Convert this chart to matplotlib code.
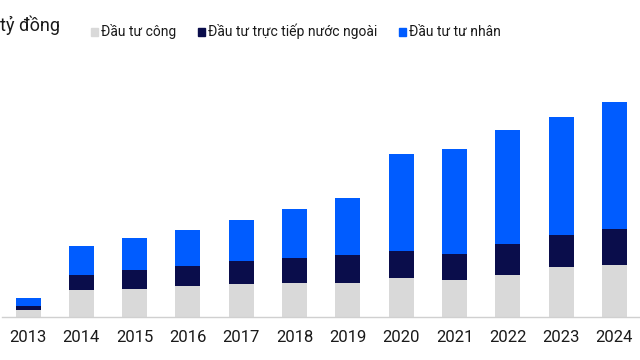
import matplotlib.pyplot as plt
from matplotlib.patches import Rectangle
import numpy as np

years = ['2013', '2014', '2015', '2016', '2017', '2018',
         '2019', '2020', '2021', '2022', '2023', '2024']
dau_tu_cong = [7, 26.7, 28.3, 30.7, 33.3, 33.7, 34.3, 38.7, 36.7, 42.3, 50, 52.3]
dau_tu_fdi = [4, 15.3, 18.7, 20.6, 23, 25.3, 27.4, 27, 26.6, 30.4, 31.7, 35.4]
dau_tu_tu_nhan = [8, 29, 32.3, 35.7, 40.4, 48.7, 57, 97.3, 105, 114.3, 118, 127]
labels = ['Đầu tư công', 'Đầu tư trực tiếp nước ngoài', 'Đầu tư tư nhân']
colors = ['#D9D9D9', '#0A0D4B', '#005CFF']

plt.rcParams['font.family'] = ['Roboto', 'DejaVu Sans']

fig = plt.figure(figsize=(6.4, 3.6), dpi=100)
ax = fig.add_axes([0.003, 1 - 317 / 360, 0.997, 257 / 360])

x = np.arange(len(years))
c = np.array(dau_tu_cong)
f = np.array(dau_tu_fdi)
t = np.array(dau_tu_tu_nhan)
w = 0.47
ax.bar(x, c, w, color=colors[0])
ax.bar(x, f, w, bottom=c, color=colors[1])
ax.bar(x, t, w, bottom=c + f, color=colors[2])

ax.set_xlim(-0.49, 11.48)
ax.set_ylim(0, 257)
ax.set_xticks(x)
ax.set_xticklabels(years, fontsize=12, color='#1a1a1a')
ax.tick_params(axis='x', length=0, pad=9)
ax.set_yticks([])
for s in ['top', 'right', 'left']:
    ax.spines[s].set_visible(False)
ax.spines['bottom'].set_color('#d0d0d0')
ax.spines['bottom'].set_linewidth(1)

fig.text(0.0, 1 - 31 / 360, 'tỷ đồng', fontsize=13, color='#1a1a1a', va='baseline')

# legend drawn by hand so the spacing matches
marker_x = [91, 198, 399]
for mx, lab, col in zip(marker_x, labels, colors):
    fig.patches.append(Rectangle((mx / 640, 1 - 36 / 360), 7 / 640, 8 / 360,
                                 color=col, transform=fig.transFigure))
    fig.text((mx + 10) / 640, 1 - 36 / 360, lab, fontsize=10,
             color='#1a1a1a', va='baseline')

fig.savefig('out.png', dpi=100)
